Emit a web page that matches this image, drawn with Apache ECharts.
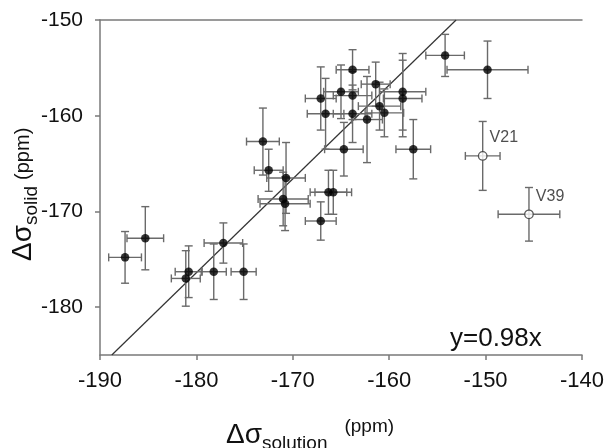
<!DOCTYPE html>
<html>
<head>
<meta charset="utf-8">
<script src="https://cdn.jsdelivr.net/npm/echarts@6/dist/echarts.min.js"></script>
<style>
  html, body { margin: 0; padding: 0; background: #fff; }
  #chart { width: 607px; height: 448px; }
</style>
</head>
<body>
<div id="chart"></div>
<script>
// chemical shift anisotropy, solution vs solid (ppm)
const solutionShift = [-187.4, -185.3, -181.1, -180.8, -178.2, -177.2, -175.1, -173.1, -172.5, -170.7,
  -171.0, -170.8, -167.1, -167.1, -166.6, -166.3, -165.8, -165.0, -164.7, -163.8,
  -163.8, -163.8, -162.3, -161.4, -161.0, -160.5, -158.6, -158.6, -157.5, -154.2, -149.8];
const solidShift = [-174.8, -172.8, -177.0, -176.3, -176.3, -173.3, -176.3, -162.7, -165.7, -166.5,
  -168.7, -169.2, -171.0, -158.2, -159.8, -168.0, -168.0, -157.5, -163.5, -155.2,
  -157.9, -159.8, -160.4, -156.7, -159.0, -159.7, -157.5, -158.2, -163.5, -153.7, -155.2];
const solutionErr = [1.7, 1.9, 1.5, 1.4, 1.3, 2.0, 1.3, 1.7, 1.5, 2.0,
  2.6, 2.6, 1.6, 1.6, 1.9, 1.9, 1.9, 1.8, 2.0, 1.7,
  2.0, 2.0, 1.6, 1.5, 2.2, 2.0, 2.4, 2.0, 1.8, 2.0, 4.2];
const solidErr = [2.7, 3.3, 2.9, 2.7, 2.9, 2.1, 2.9, 3.5, 2.2, 3.7,
  2.8, 2.8, 2.0, 3.3, 3.7, 2.3, 2.3, 2.8, 2.8, 2.1,
  2.5, 3.0, 4.5, 2.3, 2.5, 2.5, 4.0, 4.0, 3.1, 2.2, 3.0];

const outlierNames = ['V21', 'V39'];
const outlierSolution = [-150.3, -145.5];
const outlierSolid = [-164.2, -170.3];
const outlierSolutionErr = [1.8, 3.2];
const outlierSolidErr = [3.6, 2.8];

const fitSlope = 0.98;
const xRange = [-190, -140];
const yRange = [-185, -150];
const yTicks = [-180, -170, -160, -150];

const chart = echarts.init(document.getElementById('chart'));

function renderErrorBars (params, api) {
  const x = api.value(0);
  const y = api.value(1);
  const ex = api.value(2);
  const ey = api.value(3);
  const left = api.coord([x - ex, y]);
  const right = api.coord([x + ex, y]);
  const top = api.coord([x, y + ey]);
  const bottom = api.coord([x, y - ey]);
  const cap = 4;
  const style = { stroke: '#6a6a6a', lineWidth: 1.4 };
  const seg = (x1, y1, x2, y2) => ({ type: 'line', shape: { x1, y1, x2, y2 }, style });
  return {
    type: 'group',
    children: [
      seg(left[0], left[1], right[0], right[1]),
      seg(left[0], left[1] - cap, left[0], left[1] + cap),
      seg(right[0], right[1] - cap, right[0], right[1] + cap),
      seg(top[0], top[1], bottom[0], bottom[1]),
      seg(top[0] - cap, top[1], top[0] + cap, top[1]),
      seg(bottom[0] - cap, bottom[1], bottom[0] + cap, bottom[1])
    ]
  };
}

const mainPoints = solutionShift.map((x, i) => [x, solidShift[i]]);
const mainBars = solutionShift.map((x, i) => [x, solidShift[i], solutionErr[i], solidErr[i]]);
const outlierPoints = outlierSolution.map((x, i) => ({ value: [x, outlierSolid[i]], name: outlierNames[i] }));
const outlierBars = outlierSolution.map((x, i) => [x, outlierSolid[i], outlierSolutionErr[i], outlierSolidErr[i]]);

// fit line y = slope * x, clipped to the plot box
const fitLine = [
  [yRange[0] / fitSlope, yRange[0]],
  [yRange[1] / fitSlope, yRange[1]]
];

const axisColor = '#7a7a7a';
const titleFont = 'Liberation Sans';

chart.setOption({
  animation: false,
  backgroundColor: '#fff',
  grid: { left: 100, right: 25, top: 20, bottom: 93 },
  xAxis: [{
    type: 'value',
    min: xRange[0],
    max: xRange[1],
    interval: 10,
    axisLine: { show: true, onZero: false, lineStyle: { color: axisColor, width: 1.5 } },
    axisTick: { show: true, inside: false, length: 5, lineStyle: { color: axisColor, width: 1.5 } },
    axisLabel: { margin: 15, fontFamily: titleFont, fontSize: 22, color: '#111' },
    splitLine: { show: false }
  }, {
    type: 'value',
    position: 'top',
    min: xRange[0],
    max: xRange[1],
    axisLine: { show: true, onZero: false, lineStyle: { color: axisColor, width: 1.5 } },
    axisTick: { show: false },
    axisLabel: { show: false },
    splitLine: { show: false }
  }],
  yAxis: {
    type: 'value',
    min: yRange[0],
    max: yRange[1],
    axisLine: { show: true, onZero: false, lineStyle: { color: axisColor, width: 1.5 } },
    axisTick: { show: true, inside: false, length: 5, customValues: yTicks, lineStyle: { color: axisColor, width: 1.5 } },
    axisLabel: { margin: 17, customValues: yTicks, fontFamily: titleFont, fontSize: 21, color: '#111' },
    splitLine: { show: false }
  },
  series: [{
    type: 'line',
    data: fitLine,
    showSymbol: false,
    silent: true,
    lineStyle: { color: '#333', width: 1.2 },
    z: 1
  }, {
    type: 'custom',
    renderItem: renderErrorBars,
    data: mainBars.concat(outlierBars),
    encode: { x: 0, y: 1 },
    z: 2
  }, {
    type: 'scatter',
    data: mainPoints,
    symbol: 'circle',
    symbolSize: 8.5,
    itemStyle: { color: '#000' },
    z: 3
  }, {
    type: 'scatter',
    data: outlierPoints,
    symbol: 'circle',
    symbolSize: 8.5,
    itemStyle: { color: '#fff', borderColor: '#333', borderWidth: 1.3 },
    label: {
      show: true,
      position: 'right',
      offset: [-3, -18],
      formatter: '{b}',
      fontFamily: titleFont,
      fontSize: 16,
      color: '#222'
    },
    z: 3
  }],
  graphic: [{
    type: 'text',
    x: 450,
    y: 326,
    style: {
      text: 'y=0.98x',
      font: '26px "Liberation Sans"',
      fill: '#111'
    }
  }, {
    type: 'text',
    x: 226,
    y: 417,
    style: {
      text: '{m|Δσ}{s|solution}{g|}{p|(ppm)}',
      rich: {
        m: { fontFamily: titleFont, fontSize: 28, lineHeight: 36, verticalAlign: 'middle', fill: '#111' },
        s: { fontFamily: titleFont, fontSize: 19, lineHeight: 36, verticalAlign: 'bottom', fill: '#111' },
        g: { width: 17 },
        p: { fontFamily: titleFont, fontSize: 19, lineHeight: 36, verticalAlign: 'top', fill: '#111' }
      }
    }
  }, {
    type: 'text',
    x: 5,
    y: 261,
    rotation: Math.PI / 2,
    style: {
      text: '{m|Δσ}{s|solid}{g|}{p|(ppm)}',
      rich: {
        m: { fontFamily: titleFont, fontSize: 28, lineHeight: 36, verticalAlign: 'middle', fill: '#111' },
        s: { fontFamily: titleFont, fontSize: 19, lineHeight: 36, verticalAlign: 'bottom', fill: '#111' },
        g: { width: 6 },
        p: { fontFamily: titleFont, fontSize: 20, lineHeight: 36, verticalAlign: 'middle', fill: '#111' }
      }
    }
  }]
});
</script>
</body>
</html>
